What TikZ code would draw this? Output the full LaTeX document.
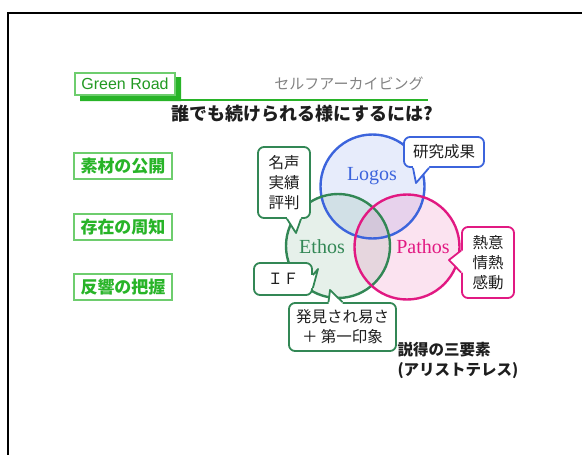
\documentclass[tikz,border=0pt]{standalone}
\usepackage{fontspec}
\setmainfont{Noto Sans CJK JP}
\newfontfamily\lsans{Liberation Sans}
\newfontfamily\lserif{Liberation Serif}
\usetikzlibrary{calc}
\definecolor{gr}{RGB}{40,180,40}
\definecolor{grl}{RGB}{110,205,110}
\definecolor{eth}{RGB}{50,135,85}
\definecolor{logc}{RGB}{60,100,220}
\definecolor{pat}{RGB}{225,25,130}
\definecolor{txt}{RGB}{30,30,30}
\definecolor{grey}{RGB}{130,130,130}
\begin{document}
\begin{tikzpicture}[x=1pt,y=-1pt,
  leftbox/.style={draw=grl,line width=1.4pt,minimum width=98pt,minimum height=26pt,inner sep=0pt,
    text=gr,font=\bfseries\fontsize{17}{20}\selectfont},
  callout/.style={draw=#1,line width=1.8pt,rounded corners=6pt,fill=white,inner sep=0pt,
    text=txt,font=\fontsize{15.5}{20}\selectfont,align=center},
  tailline/.style={draw=#1,line width=1.8pt,line join=round},
  venn/.style={circle,minimum size=104pt,inner sep=0pt,fill=#1,fill opacity=0.12},
  vennline/.style={draw=#1,line width=2.4pt},
  vtext/.style={font=\lserif\fontsize{20}{24}\selectfont,text=#1}]
\useasboundingbox (0,0) rectangle (582,455);
% frame
\draw[line width=2pt,black] (8,455) -- (8,13) -- (582,13);
% Green Road header
\fill[gr] (80,95) -- (175,95) -- (175,77) -- (181,77) -- (181,101) -- (80,101) -- cycle;
\node[draw=grl,line width=1.3pt,fill=white,minimum width=100pt,minimum height=22pt,inner sep=0pt,
  text=gr!85!black,font=\lsans\fontsize{16}{18}\selectfont] (gread) at (125,84) {Green Road};
\draw[gr,line width=2pt] (181,99.5) -- (428,99.5);
\node[text=grey,font=\fontsize{15}{18}\selectfont] (self) at (349,84) {セルフアーカイビング};
\node[text=txt,font=\bfseries\fontsize{18}{22}\selectfont] (head) at (302,114) {誰でも続けられる様にするには?};
% left boxes
\node[leftbox] (b1) at (123,166) {素材の公開};
\node[leftbox] (b2) at (123,227) {存在の周知};
\node[leftbox] (b3) at (123,287) {反響の把握};
% circles
\node[venn=logc] (clogos) at (372.5,186.5) {};
\node[venn=eth] (cethos) at (338,246) {};
\node[venn=pat] (cpathos) at (407,247) {};
\draw[vennline=logc] (clogos.center) circle (52);
\draw[vennline=eth] (cethos.center) circle (52);
\draw[vennline=pat] (cpathos.center) circle (52.5);
\node[vtext=logc] (tlogos) at (372,176) {Logos};
\node[vtext=eth] (tethos) at (322,247) {Ethos};
\node[vtext=pat] (tpathos) at (423,247) {Pathos};
% callouts
\node[callout=eth,minimum width=52pt,minimum height=71pt] (ms) at (284,182.5) {名声\\実績\\評判};
\coordinate (mstip) at (296,233);
\fill[white] ($(ms.south)+(3,-2.5)$) -- ($(ms.south)+(3,0)$) -- (mstip) -- ($(ms.south)+(17,0)$) -- ($(ms.south)+(17,-2.5)$) -- cycle;
\draw[tailline=eth] ($(ms.south)+(3,0)$) -- (mstip) -- ($(ms.south)+(17,0)$);

\node[callout=logc,minimum width=80pt,minimum height=30pt] (kk) at (444,152) {研究成果};
\coordinate (kktip) at (416,183);
\fill[white] ($(kk.south)+(-31,-2.5)$) -- ($(kk.south)+(-31,0)$) -- (kktip) -- ($(kk.south)+(-15,0)$) -- ($(kk.south)+(-15,-2.5)$) -- cycle;
\draw[tailline=logc] ($(kk.south)+(-31,0)$) -- (kktip) -- ($(kk.south)+(-15,0)$);

\node[callout=pat,minimum width=52pt,minimum height=71pt] (ne) at (488,262.5) {熱意\\情熱\\感動};
\coordinate (netip) at (449,260);
\fill[white] ($(ne.west)+(2.5,-12)$) -- ($(ne.west)+(0,-12)$) -- (netip) -- ($(ne.west)+(0,10)$) -- ($(ne.west)+(2.5,10)$) -- cycle;
\draw[tailline=pat] ($(ne.west)+(0,-12)$) -- (netip) -- ($(ne.west)+(0,10)$);

\node[callout=eth,minimum width=58pt,minimum height=32pt] (if) at (283,279) {ＩＦ};
\coordinate (iftip) at (318,269);
\fill[white] ($(if.east)+(-2.5,-4)$) -- ($(if.east)+(0,-4)$) -- (iftip) -- ($(if.east)+(0,9)$) -- ($(if.east)+(-2.5,9)$) -- cycle;
\draw[tailline=eth] ($(if.east)+(0,-4)$) -- (iftip) -- ($(if.east)+(0,9)$);

\node[callout=eth,minimum width=107pt,minimum height=48pt] (hk) at (342.5,327) {発見され易さ\\＋ 第一印象};
\coordinate (hktip) at (330,290);
\fill[white] ($(hk.north)+(-14,2.5)$) -- ($(hk.north)+(-14,0)$) -- (hktip) -- ($(hk.north)+(0,0)$) -- ($(hk.north)+(0,2.5)$) -- cycle;
\draw[tailline=eth] ($(hk.north)+(-14,0)$) -- (hktip) -- ($(hk.north)+(0,0)$);
% caption
\node[anchor=west,text=txt,font=\bfseries\fontsize{15.5}{20}\selectfont,align=left] (cap) at (394,360) {説得の三要素\\(アリストテレス)};
\end{tikzpicture}
\end{document}
